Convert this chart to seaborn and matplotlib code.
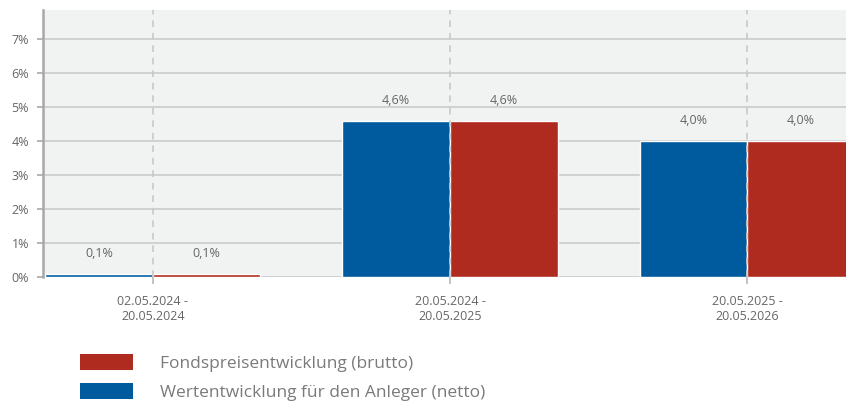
import matplotlib
matplotlib.use("Agg")
import matplotlib.pyplot as plt
from matplotlib.patches import Patch
import seaborn as sns
import pandas as pd

# Data
periods = ["02.05.2024 -\n20.05.2024", "20.05.2024 -\n20.05.2025", "20.05.2025 -\n20.05.2026"]
netto = [0.1, 4.6, 4.0]
brutto = [0.1, 4.6, 4.0]
series_names = ["Wertentwicklung für den Anleger (netto)", "Fondspreisentwicklung (brutto)"]
y_ticks = [0, 1, 2, 3, 4, 5, 6, 7]

blue = "#005A9E"
red = "#B02B1F"
text_gray = "#666666"

df = pd.DataFrame({
    "period": periods * 2,
    "value": netto + brutto,
    "series": [series_names[0]] * len(periods) + [series_names[1]] * len(periods),
})

sns.set_theme(style="white")
plt.rcParams["font.family"] = ["Open Sans", "DejaVu Sans"]

fig = plt.figure(figsize=(8.46, 4.03), dpi=100)
ax = fig.add_axes([0.0508, 0.3127, 0.9492, 0.6625])
ax.set_facecolor("#F1F2F2")

sns.barplot(data=df, x="period", y="value", hue="series", hue_order=series_names,
            palette=[blue, red], width=0.724, dodge=True, ax=ax,
            edgecolor="white", linewidth=1.0, legend=False, saturation=1)

ax.set_xlim(-0.37, 2.333)
ax.set_ylim(0, 7.85)
ax.set_yticks(y_ticks)
ax.set_yticklabels([f"{t}%" for t in y_ticks])

# horizontal grid
for t in y_ticks:
    ax.axhline(t, color="#C8C8C8", lw=1.1, zorder=0.5)
# dashed vertical lines at the period centres
for i in range(len(periods)):
    ax.axvline(i, color="#C8C8C8", lw=1.2, ls=(0, (4, 3.5)), zorder=3)

for s in ["top", "right", "bottom"]:
    ax.spines[s].set_visible(False)
ax.spines["left"].set_color("#A8A8A8")
ax.spines["left"].set_linewidth(1.8)

ax.tick_params(axis="y", length=4, width=1.2, color="#A8A8A8", labelsize=9,
               labelcolor=text_gray, pad=6, left=True)
ax.tick_params(axis="x", length=5, width=1.2, color="#B8B8B8", labelsize=9,
               labelcolor=text_gray, pad=8, bottom=True)
ax.set_xlabel("")
ax.set_ylabel("")

for c in ax.containers:
    labels = [f"{b.get_height():.1f}%".replace(".", ",") for b in c]
    ax.bar_label(c, labels=labels, padding=10, fontsize=9, color=text_gray)

handles = [Patch(facecolor=red, edgecolor="none"), Patch(facecolor=blue, edgecolor="none")]
fig.legend(handles, [series_names[1], series_names[0]], loc="upper left",
           bbox_to_anchor=(0.0946, 0.121), bbox_transform=fig.transFigure,
           frameon=False, fontsize=12.5, labelcolor="#7A7A7A",
           handlelength=3.05, handleheight=0.98, handletextpad=1.55, labelspacing=0.67,
           borderpad=0, borderaxespad=0)

fig.savefig("out.png", dpi=100)
